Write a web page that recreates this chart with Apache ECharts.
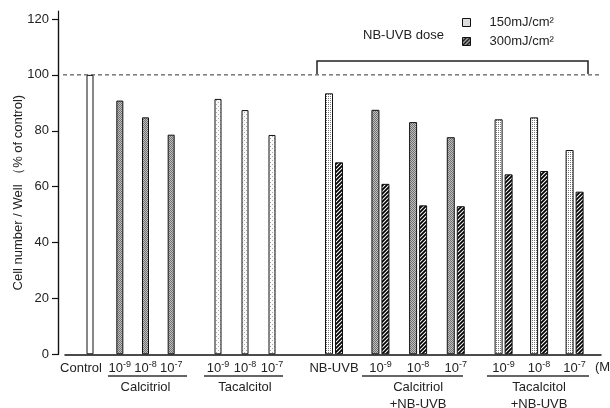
<!DOCTYPE html>
<html>
<head>
<meta charset="utf-8">
<script src="https://cdn.jsdelivr.net/npm/echarts@6/dist/echarts.min.js"></script>
<style>html,body{margin:0;padding:0;background:#fff}#c{width:610px;height:408px}</style>
</head>
<body>
<div id="c"></div>
<script>
// ---- data ----
const yMin = 0, yMax = 120, yStep = 20;
const refLine = 100;
const controlCats = ['Control'];
const doseCats = ['10^-9', '10^-8', '10^-7'];
const uvbCats = ['NB-UVB'];
const controlVals = [100];
const calcitriolVals = [90.8, 84.8, 78.6];
const tacalcitolVals = [91.4, 87.4, 78.5];
const uvb150 = [93.4];
const uvb300 = [68.7];
const calcUvb150 = [87.5, 83.1, 77.7];
const calcUvb300 = [61.0, 53.3, 53.0];
const tacUvb150 = [84.1, 84.8, 73.1];
const tacUvb300 = [64.4, 65.6, 58.2];
const dose150 = '150mJ/cm²';
const dose300 = '300mJ/cm²';

// ---- fill patterns ----
function pat(size, draw) {
  const c = document.createElement('canvas');
  c.width = size; c.height = size;
  const g = c.getContext('2d');
  draw(g, size);
  return { image: c, repeat: 'repeat' };
}
const stippleDark = pat(2, (g) => {
  g.fillStyle = '#c0c0c0'; g.fillRect(0, 0, 2, 2);
  g.fillStyle = '#707070'; g.fillRect(0, 0, 1, 1); g.fillRect(1, 1, 1, 1);
});
const lightDots = pat(4, (g) => {
  g.fillStyle = '#fafafa'; g.fillRect(0, 0, 4, 4);
  g.fillStyle = '#a8a8a8'; g.fillRect(0, 0, 1, 1); g.fillRect(2, 2, 1, 1);
});
const dotted = pat(2, (g) => {
  g.fillStyle = '#ffffff'; g.fillRect(0, 0, 2, 2);
  g.fillStyle = '#777'; g.fillRect(0, 0, 1, 1);
});
const hatch = pat(4, (g) => {
  g.fillStyle = '#ffffff'; g.fillRect(0, 0, 4, 4);
  g.strokeStyle = '#000'; g.lineWidth = 1.8;
  g.beginPath();
  g.moveTo(0, 4); g.lineTo(4, 0);
  g.moveTo(-1, 1); g.lineTo(1, -1);
  g.moveTo(3, 5); g.lineTo(5, 3);
  g.stroke();
});

const FONT = 'Liberation Sans, Arial, sans-serif';
const TXT = '#222';
const TOP = 19, H = 335.3;

function fmtLabel(v) {
  const p = v.split('^');
  return p.length > 1 ? '{b|' + p[0] + '}{s|' + p[1] + '}' : '{b|' + v + '}';
}
const rich = {
  b: { fontSize: 13, lineHeight: 16, color: TXT, fontFamily: FONT },
  s: { fontSize: 9, lineHeight: 16, color: TXT, fontFamily: FONT, verticalAlign: 'top' }
};

const groupGrids = [
  { left: 76, width: 28, cats: controlCats, name: '', pad: [0, 18, 0, 0] },
  { left: 107, width: 77, cats: doseCats, name: 'Calcitriol' },
  { left: 204.5, width: 81, cats: doseCats, name: 'Tacalcitol' },
  { left: 314, width: 40, cats: uvbCats, name: '' },
  { left: 361.6, width: 113, cats: doseCats, name: 'Calcitriol\n+NB-UVB' },
  { left: 485.85, width: 106.5, cats: doseCats, name: 'Tacalcitol\n+NB-UVB' }
];

const G = { outerBoundsMode: 'none', containLabel: false };
const grids = [
  Object.assign({ left: 58, width: 542, top: TOP, height: H }, G),     // 0 main y axis
  Object.assign({ left: 58, width: 10, top: 11, height: H + 8 }, G),   // 1 y axis line extension
  Object.assign({ left: 65, width: 536, top: TOP, height: H }, G),     // 2 baseline
  Object.assign({ left: 63, width: 537, top: TOP, height: H }, G)      // 3 reference line
];
const xAxes = [
  { gridIndex: 0, type: 'value', min: 0, max: 1, show: false },
  { gridIndex: 1, type: 'value', min: 0, max: 1, show: false },
  { gridIndex: 2, type: 'category', data: [''], axisLine: { lineStyle: { color: '#111', width: 1.5 } }, axisTick: { show: false }, axisLabel: { show: false } },
  { gridIndex: 3, type: 'value', min: 0, max: 1, show: false }
];
const yAxes = [
  {
    gridIndex: 0, type: 'value', min: yMin, max: yMax, interval: yStep,
    name: 'Cell number / Well （% of control)', nameLocation: 'middle', nameGap: 33, nameRotate: 90,
    nameMoveOverlap: false,
    nameTextStyle: { fontSize: 13, color: TXT, fontFamily: FONT, padding: [0, 12, 0, 0] },
    axisLine: { show: true, lineStyle: { color: '#111', width: 1.2 } },
    axisTick: { show: true, length: 6, lineStyle: { color: '#111', width: 1.2 } },
    axisLabel: { fontSize: 13, color: TXT, fontFamily: FONT, margin: 9 },
    splitLine: { show: false }
  },
  {
    gridIndex: 1, type: 'value', min: 0, max: 1,
    axisLine: { show: true, lineStyle: { color: '#111', width: 1.2 } },
    axisTick: { show: false }, axisLabel: { show: false }, splitLine: { show: false }
  },
  { gridIndex: 2, type: 'value', min: yMin, max: yMax, show: false },
  { gridIndex: 3, type: 'value', min: yMin, max: yMax, show: false }
];
const OFF = 4;
groupGrids.forEach((g, i) => {
  grids.push(Object.assign({ left: g.left, width: g.width, top: TOP, height: H }, G));
  xAxes.push({
    gridIndex: OFF + i, type: 'category', data: g.cats,
    axisLine: { show: false }, axisTick: { show: false },
    axisLabel: { interval: 0, margin: 6, formatter: fmtLabel, rich: rich, padding: g.pad || 0 },
    name: g.name, nameLocation: 'middle', nameGap: 25, nameMoveOverlap: false,
    nameTextStyle: { fontSize: 13, lineHeight: 17, color: TXT, fontFamily: FONT }
  });
  yAxes.push({ gridIndex: OFF + i, type: 'value', min: yMin, max: yMax, show: false });
});

const border = { borderColor: '#111', borderWidth: 1 };
function bar(k, name, data, color, width) {
  const idx = OFF + k;
  return {
    type: 'bar', name: name, xAxisIndex: idx, yAxisIndex: idx, data: data,
    barWidth: width, barGap: '25%', silent: true,
    itemStyle: Object.assign({ color: color }, border)
  };
}

const series = [
  {
    type: 'line', xAxisIndex: 3, yAxisIndex: 3, data: [[0, refLine], [1, refLine]],
    symbol: 'none', silent: true, lineStyle: { color: '#333', width: 1, type: [4, 3] }
  },
  bar(0, 'Control', controlVals, '#ffffff', 7),
  bar(1, 'Calcitriol', calcitriolVals, stippleDark, 7),
  bar(2, 'Tacalcitol', tacalcitolVals, lightDots, 7),
  bar(3, dose150, uvb150, dotted, 8),
  bar(3, dose300, uvb300, hatch, 8),
  bar(4, dose150, calcUvb150, stippleDark, 8),
  bar(4, dose300, calcUvb300, hatch, 8),
  bar(5, dose150, tacUvb150, dotted, 8),
  bar(5, dose300, tacUvb300, hatch, 8)
];

const lineStyle = { stroke: '#333', lineWidth: 1.5 };
const graphic = [
  { type: 'polyline', shape: { points: [[317, 74], [317, 61], [588, 61], [588, 74]] }, style: { stroke: '#222', fill: null, lineWidth: 1.5 } },
  { type: 'text', x: 363, y: 35, style: { text: 'NB-UVB dose', fontSize: 13, fill: TXT, fontFamily: FONT, verticalAlign: 'middle' } },
  { type: 'text', x: 595, y: 367, style: { text: '(M)', fontSize: 13, fill: TXT, fontFamily: FONT, verticalAlign: 'middle' } },
  { type: 'line', shape: { x1: 108, y1: 376, x2: 187, y2: 376 }, style: lineStyle },
  { type: 'line', shape: { x1: 204, y1: 376, x2: 283, y2: 376 }, style: lineStyle },
  { type: 'line', shape: { x1: 362, y1: 376, x2: 463, y2: 376 }, style: lineStyle },
  { type: 'line', shape: { x1: 487, y1: 376, x2: 589, y2: 376 }, style: lineStyle }
];

const chart = echarts.init(document.getElementById('c'), null, { renderer: 'canvas' });
chart.setOption({
  animation: false,
  backgroundColor: '#fff',
  grid: grids,
  xAxis: xAxes,
  yAxis: yAxes,
  legend: {
    data: [dose150, dose300], orient: 'vertical', left: 462, top: 16, padding: 0,
    itemWidth: 8, itemHeight: 8, itemGap: 6, icon: 'rect', selectedMode: false,
    itemStyle: { borderColor: '#111', borderWidth: 1 },
    textStyle: { fontSize: 13, color: TXT, fontFamily: FONT, padding: [0, 0, 0, 14] }
  },
  series: series,
  graphic: graphic
});
</script>
</body>
</html>
